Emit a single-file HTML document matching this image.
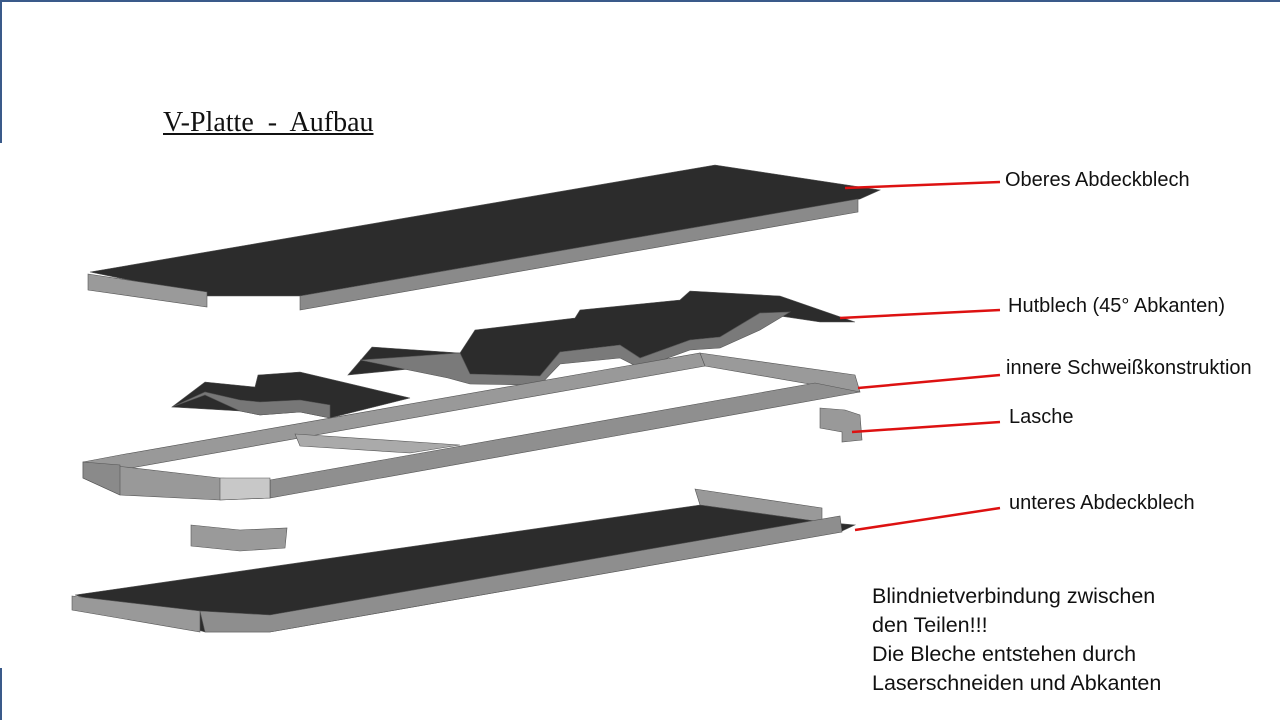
<!DOCTYPE html>
<html><head><meta charset="utf-8"><style>
body{margin:0;width:1280px;height:720px;background:#fff;position:relative;overflow:hidden;font-family:"Liberation Sans",sans-serif}
.t{position:absolute;font-size:20px;color:#111;white-space:nowrap}
</style></head><body>
<div style="position:absolute;left:0;top:0;width:1280px;height:2px;background:#3a5a8a"></div>
<div style="position:absolute;left:0;top:0;width:2px;height:143px;background:#3a5a8a"></div>
<div style="position:absolute;left:0;top:668px;width:2px;height:52px;background:#3a5a8a"></div>
<div style="position:absolute;left:163px;top:107px;font-family:'Liberation Serif',serif;font-size:28px;text-decoration:underline;color:#111;white-space:pre">V-Platte  -  Aufbau</div>
<svg width="1280" height="720" style="position:absolute;left:0;top:0">
<g stroke="#555" stroke-width="0.6">
<polygon points="90,272 715,165 880,190 860,199 300,296 207,296" fill="#2c2c2c"/>
<polygon points="300,296 858,199 858,212 300,310" fill="#8a8a8a"/>
<polygon points="88,274 207,292 207,307 88,290" fill="#9a9a9a"/>
<polygon points="172,407 205,382 255,387 258,375 300,372 410,398 330,418 300,412 260,415 240,411" fill="#2c2c2c"/>
<polygon points="172,407 205,395 240,411 260,415 300,412 330,418 330,405 300,400 260,402 240,400 205,392" fill="#777"/>
<polygon points="348,375 372,347 460,353 475,330 575,318 580,310 680,300 690,291 780,296 855,322 820,322 760,313 720,337 690,340 640,358 620,345 560,352 540,376 470,374 448,368 440,366" fill="#2c2c2c"/>
<polygon points="360,360 460,353 470,374 540,376 560,352 620,345 640,358 690,340 720,337 760,313 790,312 760,330 720,348 690,350 640,368 620,358 560,364 540,385 470,384 448,378" fill="#7a7a7a"/>
<polygon points="83,462 120,455 700,353 705,366 125,469" fill="#999"/>
<polygon points="700,353 855,375 860,392 815,385 705,366" fill="#9a9a9a"/>
<polygon points="270,480 815,383 860,392 270,498" fill="#8f8f8f"/>
<polygon points="83,462 125,467 220,478 270,480 270,498 220,500 120,495 83,478" fill="#999"/>
<polygon points="83,462 120,465 120,495 83,478" fill="#8a8a8a"/>
<polygon points="220,478 270,478 270,498 220,500" fill="#c8c8c8"/>
<polygon points="295,434 460,445 410,453 300,446" fill="#aaa"/>
<polygon points="820,408 845,410 860,415 862,440 842,442 842,432 820,428" fill="#999"/>
<polygon points="191,525 240,530 287,528 285,548 240,551 191,546" fill="#9a9a9a"/>
<polygon points="695,489 822,508 822,522 700,505" fill="#999"/>
<polygon points="75,595 700,505 822,522 855,525 840,532 270,632 205,632" fill="#2c2c2c"/>
<polygon points="72,596 200,611 200,632 72,610" fill="#999"/>
<polygon points="200,611 270,615 840,516 842,532 270,632 205,632" fill="#8e8e8e"/>
</g>
<g stroke="#dd1111" stroke-width="2.5" fill="none">
<line x1="845" y1="188" x2="1000" y2="182"/>
<line x1="840" y1="318" x2="1000" y2="310"/>
<line x1="858" y1="388" x2="1000" y2="375"/>
<line x1="852" y1="432" x2="1000" y2="422"/>
<line x1="855" y1="530" x2="1000" y2="508"/>
</g>
</svg>
<div class="t" style="left:1005px;top:169px">Oberes Abdeckblech</div>
<div class="t" style="left:1008px;top:295px">Hutblech (45° Abkanten)</div>
<div class="t" style="left:1006px;top:357px">innere Schweißkonstruktion</div>
<div class="t" style="left:1009px;top:406px">Lasche</div>
<div class="t" style="left:1009px;top:492px">unteres Abdeckblech</div>
<div class="t" style="left:872px;top:582px;font-size:21.5px;line-height:29px">Blindnietverbindung zwischen<br>den Teilen!!!<br>Die Bleche entstehen durch<br>Laserschneiden und Abkanten</div>
</body></html>
